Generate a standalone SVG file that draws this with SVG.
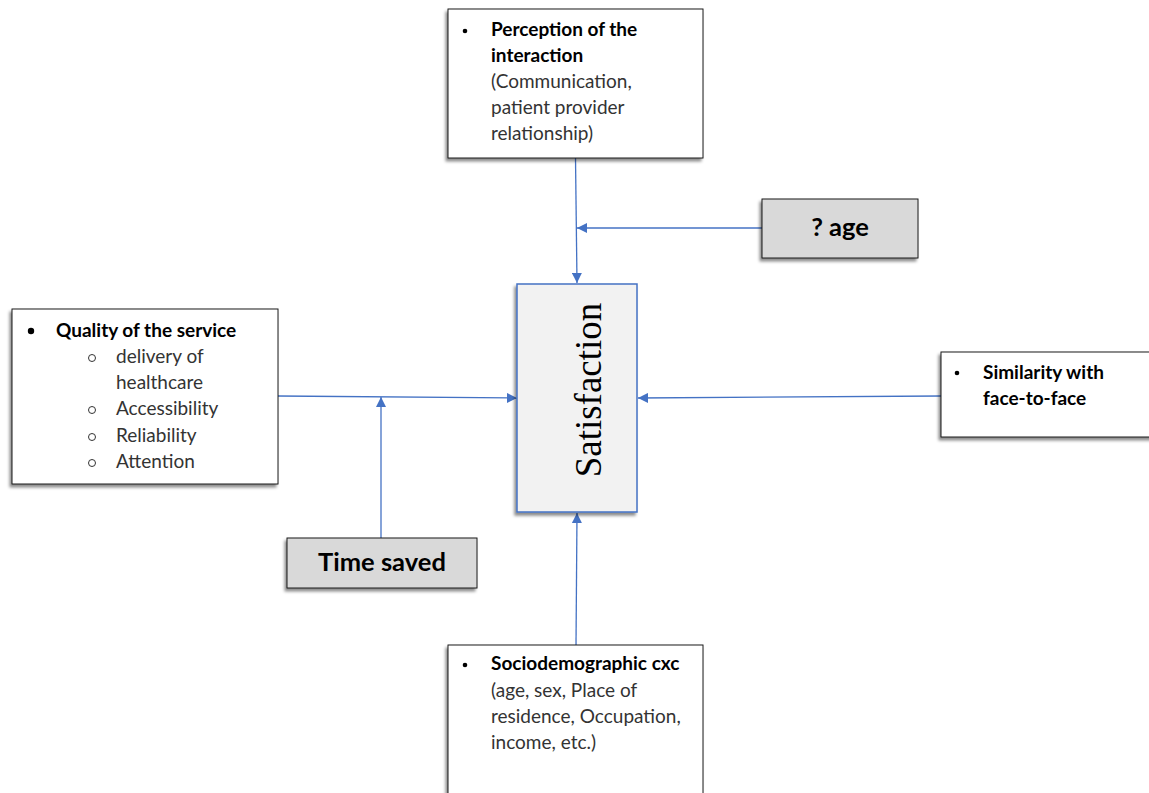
<svg xmlns="http://www.w3.org/2000/svg" width="1149" height="793" viewBox="0 0 1149 793">
<style>
.box{fill:#fff;stroke:#1a1a1a;stroke-width:1;filter:url(#sh)}
.gbox{fill:#d9d9d9;stroke:#1a1a1a;stroke-width:1;filter:url(#sh)}
.t{font-family:Lato,"Liberation Sans",sans-serif;font-size:19px;fill:#333}
.b{font-weight:bold;fill:#000}
.big{font-family:Lato,"Liberation Sans",sans-serif;font-size:25.5px;font-weight:bold;fill:#000;text-anchor:middle}
.c{fill:none;stroke:#4472c4;stroke-width:1.3}
.bul{fill:#000}
.circ{fill:none;stroke:#333;stroke-width:1}
</style>
<defs>
<filter id="sh" x="-10%" y="-10%" width="120%" height="125%">
<feDropShadow dx="-2" dy="3" stdDeviation="1.5" flood-color="#000" flood-opacity="0.45"/>
</filter>
<marker id="ar" viewBox="0 0 10 10" refX="10" refY="5" markerWidth="10" markerHeight="10" markerUnits="userSpaceOnUse" orient="auto">
<path d="M0,0 L10,5 L0,10 z" fill="#4472c4"/>
</marker>
</defs>

<g id="connectors">
<line class="c" x1="575.5" y1="158" x2="577" y2="283" marker-end="url(#ar)"/>
<line class="c" x1="762" y1="228" x2="577" y2="228" marker-end="url(#ar)"/>
<line class="c" x1="278" y1="396" x2="517" y2="398" marker-end="url(#ar)"/>
<line class="c" x1="381" y1="538" x2="381" y2="397" marker-end="url(#ar)"/>
<line class="c" x1="941" y1="396" x2="638" y2="398" marker-end="url(#ar)"/>
<line class="c" x1="576" y1="645" x2="577" y2="513" marker-end="url(#ar)"/>
</g>

<g id="perception">
<rect class="box" x="448" y="9" width="255" height="149"/>
<circle class="bul" cx="465" cy="31" r="2.3"/>
<text class="t b" x="491" y="36">Perception of the</text>
<text class="t b" x="491" y="62">interaction</text>
<text class="t" x="491" y="88">(Communication,</text>
<text class="t" x="491" y="114">patient provider</text>
<text class="t" x="491" y="140">relationship)</text>
</g>

<g id="age">
<rect class="gbox" x="762" y="199" width="156" height="59"/>
<text class="big" x="840" y="236">? age</text>
</g>

<g id="quality">
<rect class="box" x="12" y="309" width="266" height="175"/>
<circle class="bul" cx="31" cy="331" r="3.2"/>
<text class="t b" x="56" y="337">Quality of the service</text>
<circle class="circ" cx="92" cy="358" r="3.5"/>
<text class="t" x="116" y="363">delivery of</text>
<text class="t" x="116" y="389">healthcare</text>
<circle class="circ" cx="92" cy="410" r="3.5"/>
<text class="t" x="116" y="415">Accessibility</text>
<circle class="circ" cx="92" cy="437" r="3.5"/>
<text class="t" x="116" y="442">Reliability</text>
<circle class="circ" cx="92" cy="463" r="3.5"/>
<text class="t" x="116" y="468">Attention</text>
</g>

<g id="satisfaction">
<rect x="517" y="284" width="120" height="228" fill="#f2f2f2" stroke="#4472c4" stroke-width="1.5" filter="url(#sh)"/>
<text transform="translate(601,390) rotate(-90)" text-anchor="middle" font-family="Liberation Serif,serif" font-size="37" fill="#000">Satisfaction</text>
</g>

<g id="similarity">
<rect class="box" x="941" y="352" width="215" height="85"/>
<circle class="bul" cx="957" cy="373" r="2.3"/>
<text class="t b" x="983" y="379">Similarity with</text>
<text class="t b" x="983" y="405">face-to-face</text>
</g>

<g id="timesaved">
<rect class="gbox" x="287" y="538" width="190" height="50"/>
<text class="big" x="382" y="571">Time saved</text>
</g>

<g id="socio">
<rect class="box" x="448" y="645" width="255" height="160"/>
<circle class="bul" cx="465" cy="665" r="2.3"/>
<text class="t b" x="491" y="670">Sociodemographic cxc</text>
<text class="t" x="491" y="697">(age, sex, Place of</text>
<text class="t" x="491" y="723">residence, Occupation,</text>
<text class="t" x="491" y="749">income, etc.)</text>
</g>
</svg>
